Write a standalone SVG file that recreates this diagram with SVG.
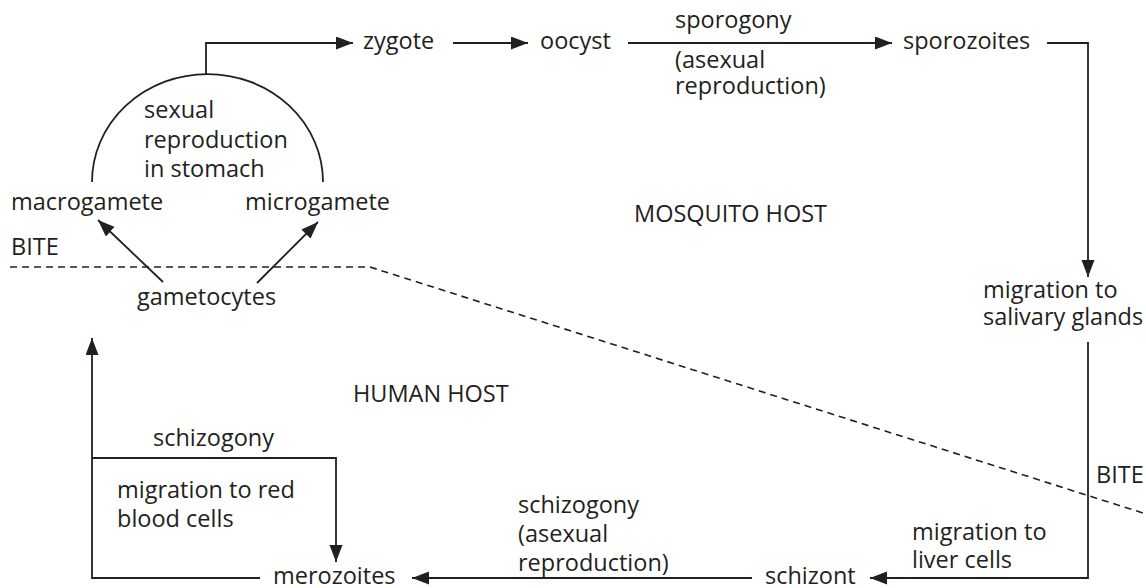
<svg xmlns="http://www.w3.org/2000/svg" width="1146" height="588" viewBox="0 0 1146 588">
<style>
text { font-family: "Open Sans", "Noto Sans", "Liberation Sans", sans-serif; font-size: 23.5px; fill: #231f20; }
.ln { fill: none; stroke: #231f20; stroke-width: 1.8; }
.dash { fill: none; stroke: #231f20; stroke-width: 1.6; stroke-dasharray: 7 5; }
</style>
<defs>
<marker id="ah" markerUnits="userSpaceOnUse" markerWidth="18" markerHeight="14" refX="17" refY="6.5" orient="auto">
<path d="M0,0 L17,6.5 L0,13 z" fill="#231f20"/>
</marker>
</defs>
<rect width="1146" height="588" fill="#ffffff"/>
<g id="connectors">
<path class="ln" d="M92,182 A115.5,108 0 0 1 323,182"/>
<path class="ln" d="M206,74 V43 H353" marker-end="url(#ah)"/>
<path class="ln" d="M453,43 H528" marker-end="url(#ah)"/>
<path class="ln" d="M628,43 H892" marker-end="url(#ah)"/>
<path class="ln" d="M1047,43 H1088 V277" marker-end="url(#ah)"/>
<path class="ln" d="M1088,342 V578 H870" marker-end="url(#ah)"/>
<path class="ln" d="M752,578 H412" marker-end="url(#ah)"/>
<path class="ln" d="M260,578 H92 V338" marker-end="url(#ah)"/>
<path class="ln" d="M92,458 H336 V562" marker-end="url(#ah)"/>
<path class="ln" d="M163,282 L98,220" marker-end="url(#ah)"/>
<path class="ln" d="M257,283 L318,222" marker-end="url(#ah)"/>
<path class="dash" d="M10,267 H370 L1146,514"/>
</g>
<g id="sexual-reproduction"><text x="144" y="118">sexual</text><text x="144" y="148">reproduction</text><text x="144" y="177">in stomach</text></g>
<g id="zygote"><text x="363" y="49">zygote</text></g>
<g id="oocyst"><text x="540" y="49">oocyst</text></g>
<g id="sporogony"><text x="675" y="28">sporogony</text><text x="675" y="68">(asexual</text><text x="675" y="94">reproduction)</text></g>
<g id="sporozoites"><text x="903" y="49">sporozoites</text></g>
<g id="macrogamete"><text x="11" y="210">macrogamete</text></g>
<g id="microgamete"><text x="245" y="210">microgamete</text></g>
<g id="bite-left"><text x="11" y="255">BITE</text></g>
<g id="gametocytes"><text x="137" y="305">gametocytes</text></g>
<g id="mosquito-host"><text x="634" y="222">MOSQUITO HOST</text></g>
<g id="salivary"><text x="983" y="298">migration to</text><text x="983" y="325">salivary glands</text></g>
<g id="human-host"><text x="353" y="402">HUMAN HOST</text></g>
<g id="schizogony-rbc"><text x="153" y="446">schizogony</text></g>
<g id="red-blood"><text x="117" y="498">migration to red</text><text x="117" y="527">blood cells</text></g>
<g id="bite-right"><text x="1096" y="483">BITE</text></g>
<g id="schizogony-liver"><text x="518" y="513">schizogony</text><text x="518" y="542">(asexual</text><text x="518" y="571">reproduction)</text></g>
<g id="liver"><text x="912" y="540">migration to</text><text x="912" y="568">liver cells</text></g>
<g id="merozoites"><text x="273" y="584">merozoites</text></g>
<g id="schizont"><text x="765" y="584">schizont</text></g>
</svg>
